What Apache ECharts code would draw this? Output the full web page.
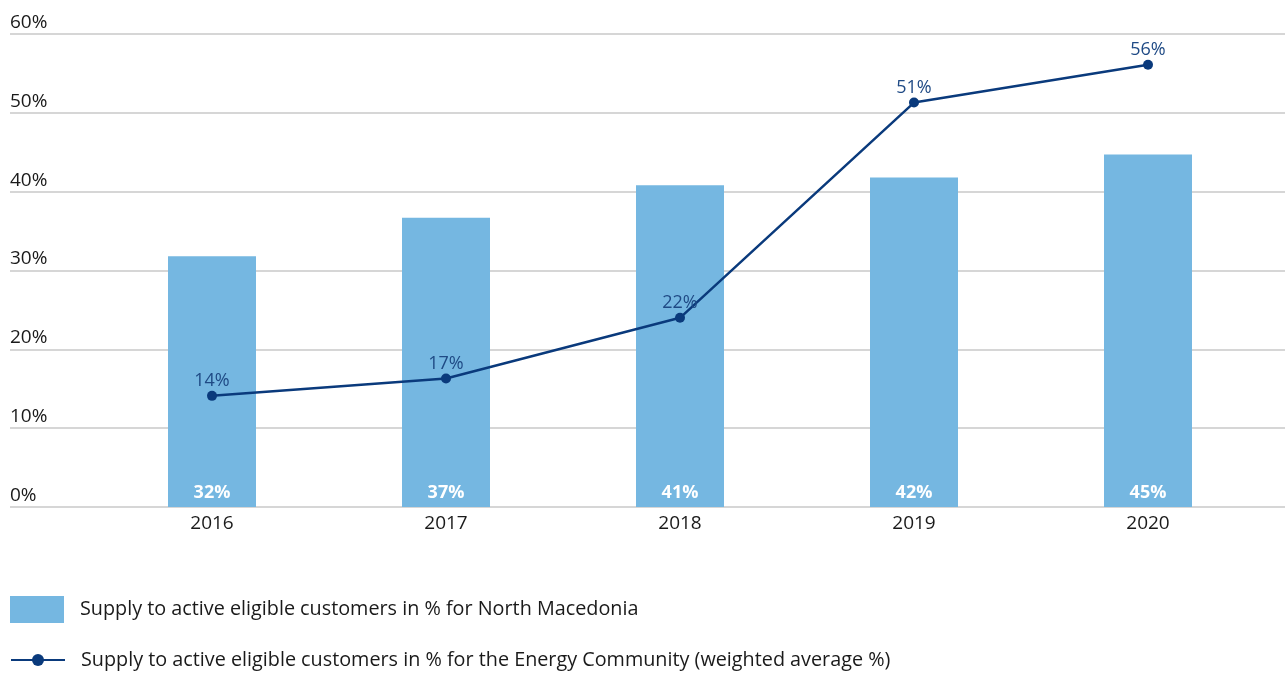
<!DOCTYPE html>
<html>
<head>
<meta charset="utf-8">
<script src="https://cdn.jsdelivr.net/npm/echarts@6/dist/echarts.min.js"></script>
<style>html,body{margin:0;padding:0;background:#fff}#c{width:1285px;height:673px}</style>
</head>
<body>
<div id="c"></div>
<script>
const categories = ['2016', '2017', '2018', '2019', '2020'];
const barValues = [31.8, 36.7, 40.8, 41.8, 44.7];
const barLabels = ['32%', '37%', '41%', '42%', '45%'];
const lineValues = [14.1, 16.3, 24.0, 51.3, 56.1];
const lineLabels = ['14%', '17%', '22%', '51%', '56%'];
const yTicks = [0, 10, 20, 30, 40, 50, 60];
const barName = 'Supply to active eligible customers in % for North Macedonia';
const lineName = 'Supply to active eligible customers in % for the Energy Community (weighted average %)';

const FONT = '"Open Sans", "Noto Sans", sans-serif';
const FS = 19;
const chart = echarts.init(document.getElementById('c'), null, {renderer: 'canvas'});
chart.setOption({
  animation: false,
  textStyle: {fontFamily: FONT},
  grid: [
    {left: 95, right: 20, top: 34, bottom: 166},
    {left: 10, right: 0, top: 34, bottom: 166}
  ],
  legend: [
    {
      data: [{name: barName, icon: 'rect'}], left: 10, top: 596, padding: 0,
      itemWidth: 54, itemHeight: 27, itemGap: 10,
      textStyle: {fontSize: 19.8, color: '#1a1a1a', fontFamily: FONT, padding: [0, 0, 0, 11]},
      selectedMode: false
    },
    {
      data: [lineName], left: 10, top: 650, padding: 0,
      itemWidth: 54, itemHeight: 15,
      textStyle: {fontSize: 19.8, color: '#1a1a1a', fontFamily: FONT, padding: [0, 0, 0, 11]},
      selectedMode: false
    }
  ],
  xAxis: [
    {
      type: 'category', gridIndex: 0, data: categories,
      axisLine: {show: false}, axisTick: {show: false},
      axisLabel: {fontSize: FS, color: '#1a1a1a', margin: 7, fontFamily: FONT}
    },
    {type: 'category', gridIndex: 1, data: categories, show: false}
  ],
  yAxis: [
    {type: 'value', gridIndex: 0, min: yTicks[0], max: yTicks[yTicks.length - 1], interval: 10, show: false},
    {
      type: 'value', gridIndex: 1, min: yTicks[0], max: yTicks[yTicks.length - 1], interval: 10,
      axisLine: {show: false}, axisTick: {show: false},
      splitLine: {show: true, lineStyle: {color: '#c8c8c8', width: 1.5}},
      axisLabel: {
        inside: true, margin: 0, fontSize: FS, color: '#1a1a1a', fontFamily: FONT,
        verticalAlign: 'bottom', padding: [0, 0, 2, 0],
        formatter: v => v + '%'
      }
    }
  ],
  series: [
    {
      name: barName, type: 'bar', xAxisIndex: 0, yAxisIndex: 0,
      data: barValues, barWidth: 88,
      itemStyle: {color: '#75b7e1'},
      label: {
        show: true, position: 'insideBottom', distance: 5,
        color: '#ffffff', fontWeight: 'bold', fontSize: FS - 1, fontFamily: FONT,
        formatter: p => barLabels[p.dataIndex]
      }
    },
    {
      name: lineName, type: 'line', xAxisIndex: 0, yAxisIndex: 0,
      data: lineValues, symbol: 'circle', symbolSize: 10,
      lineStyle: {color: '#0a3a7c', width: 2.5},
      itemStyle: {color: '#0a3a7c'},
      label: {
        show: true, position: 'top', distance: 1,
        color: '#1f4a85', fontSize: FS - 1, fontFamily: FONT,
        formatter: p => lineLabels[p.dataIndex]
      },
      z: 5
    }
  ]
});
</script>
</body>
</html>
